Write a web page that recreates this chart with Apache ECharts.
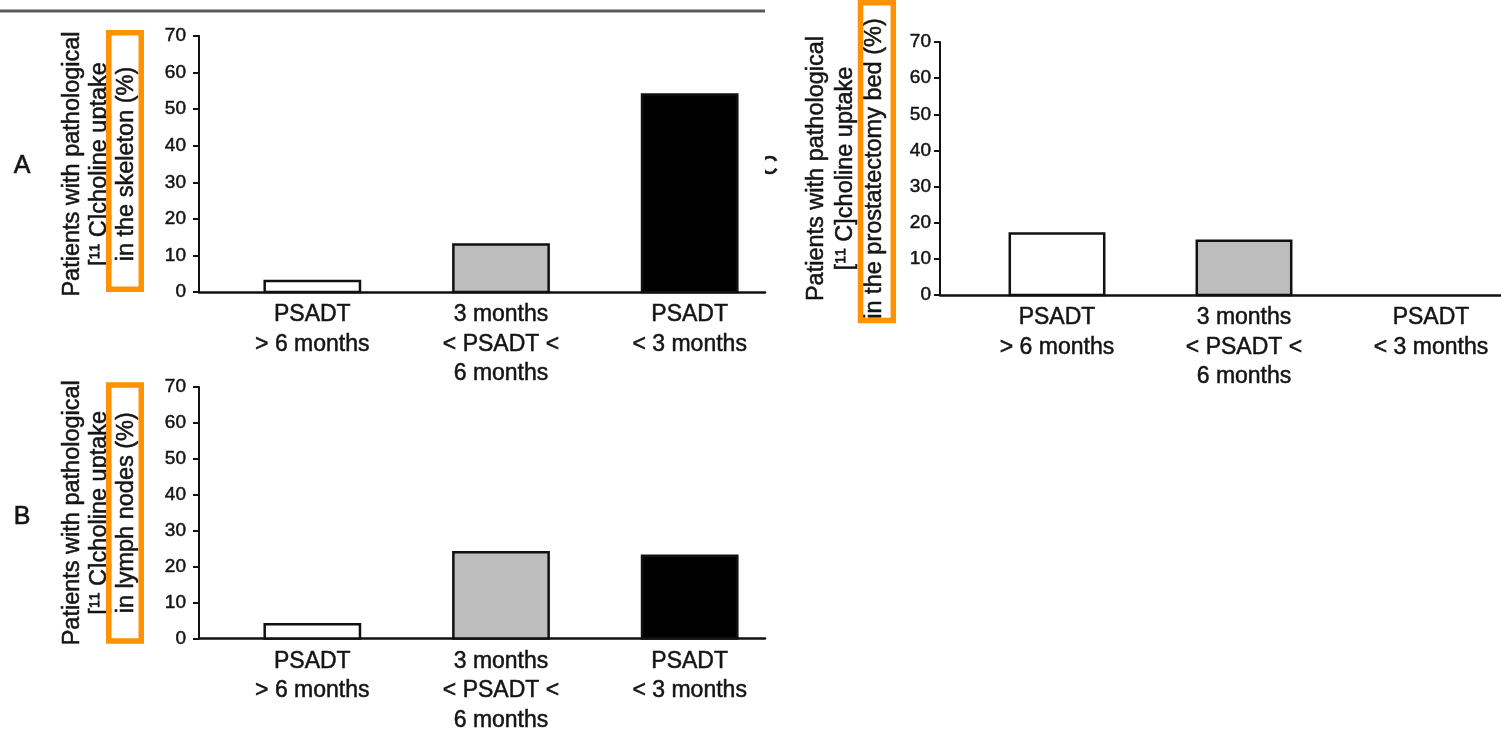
<!DOCTYPE html>
<html>
<head>
<meta charset="utf-8">
<script src="https://cdn.jsdelivr.net/npm/echarts@6/dist/echarts.min.js"></script>
<style>
html,body{margin:0;padding:0;background:#fff;}
#chart{width:1501px;height:735px;}
</style>
</head>
<body>
<div id="chart"></div>
<script>
// ---- data ----
const categories = ['PSADT\n> 6 months', '3 months\n< PSADT <\n6 months', 'PSADT\n< 3 months'];
const skeletonValues = [3, 13, 54];         // panel A
const lymphNodeValues = [4, 24, 23];        // panel B
const prostatectomyBedValues = [17, 15, 0]; // panel C
const yTicks = [0, 10, 20, 30, 40, 50, 60, 70];
const titleA = 'Patients with pathological\n[¹¹ C]choline uptake\nin the skeleton (%)';
const titleB = 'Patients with pathological\n[¹¹ C]choline uptake\nin lymph nodes (%)';
const titleC = 'Patients with pathological\n[¹¹ C]choline uptake\nin the prostatectomy bed (%)';
const panelLabels = ['A', 'B', 'C'];

// ---- styles ----
const FONT = 'Liberation Sans, Arial, sans-serif';
const INK = '#141414';
const barFills = ['#ffffff', '#bdbdbd', '#000000'];
const ORANGE = '#FF9200';
const HEAVY = { textBorderColor: INK, textBorderWidth: 0.5 };

function renderBars(shift) {
  return function (params, api) {
    const i = api.value(0), v = api.value(1);
    if (!(v > 0)) return null;
    const top = api.coord([i, v]);
    const base = api.coord([i, 0]);
    const w = api.size([1, 0])[0] * 0.505;
    return {
      type: 'rect',
      shape: { x: top[0] + shift - w / 2, y: top[1], width: w, height: base[1] - top[1] },
      style: { fill: barFills[i], stroke: '#111', lineWidth: 2.5 }
    };
  };
}

function xAxisFor(gridIndex, shift) {
  return {
    type: 'category', gridIndex: gridIndex, data: categories,
    axisLine: { lineStyle: { color: '#111', width: 2.5 } },
    axisTick: { show: false },
    axisLabel: Object.assign({
      interval: 0, fontFamily: FONT, fontSize: 23, lineHeight: 29.5, color: INK,
      margin: 8, padding: [0, 0, 0, shift * 2]
    }, HEAVY)
  };
}
function yAxisFor(gridIndex, title, gap, lh, margin) {
  return {
    type: 'value', gridIndex: gridIndex, min: yTicks[0], max: yTicks[yTicks.length - 1], interval: 10,
    splitLine: { show: false },
    axisLine: { show: true, lineStyle: { color: '#111', width: 2 } },
    axisTick: { show: true, length: 6, lineStyle: { color: '#111', width: 2 } },
    axisLabel: Object.assign({ fontFamily: FONT, fontSize: 19, color: INK, margin: margin }, HEAVY),
    name: title, nameLocation: 'middle', nameRotate: 90, nameGap: gap,
    nameTextStyle: Object.assign({ fontFamily: FONT, fontSize: 23.5, lineHeight: lh, color: INK, align: 'center' }, HEAVY)
  };
}

const SHIFT_AB = 19, SHIFT_C = 23.5;

const option = {
  backgroundColor: '#fff',
  animation: false,
  grid: [
    { left: 199, top: 36, width: 566, height: 256 },
    { left: 199, top: 387, width: 566, height: 256 },
    { left: 940, top: 42, width: 561, height: 253 }
  ],
  xAxis: [xAxisFor(0, SHIFT_AB), xAxisFor(1, SHIFT_AB), xAxisFor(2, SHIFT_C)],
  yAxis: [
    yAxisFor(0, titleA, 59, 27, 13),
    yAxisFor(1, titleB, 59, 27, 13),
    yAxisFor(2, titleC, 51, 29, 9)
  ],
  series: [
    { type: 'custom', xAxisIndex: 0, yAxisIndex: 0, renderItem: renderBars(SHIFT_AB),
      encode: { x: 0, y: 1 }, data: skeletonValues.map((v, i) => [i, v]) },
    { type: 'custom', xAxisIndex: 1, yAxisIndex: 1, renderItem: renderBars(SHIFT_AB),
      encode: { x: 0, y: 1 }, data: lymphNodeValues.map((v, i) => [i, v]) },
    { type: 'custom', xAxisIndex: 2, yAxisIndex: 2, renderItem: renderBars(SHIFT_C),
      encode: { x: 0, y: 1 }, data: prostatectomyBedValues.map((v, i) => [i, v]) }
  ],
  graphic: [
    { type: 'line', z: 10, shape: { x1: 0, y1: 11, x2: 765, y2: 11 }, style: { stroke: '#5a5a5a', lineWidth: 3 } },
    { type: 'text', z: 10, x: 22, y: 166, style: { text: panelLabels[0], font: '25px ' + FONT, fill: INK, stroke: INK, lineWidth: 0.6, textAlign: 'center', textVerticalAlign: 'middle' } },
    { type: 'text', z: 10, x: 22, y: 517, style: { text: panelLabels[1], font: '25px ' + FONT, fill: INK, stroke: INK, lineWidth: 0.6, textAlign: 'center', textVerticalAlign: 'middle' } },
    { type: 'text', z: 10, x: 769, y: 167, style: { text: panelLabels[2], font: '25px ' + FONT, fill: INK, stroke: INK, lineWidth: 0.6, textAlign: 'center', textVerticalAlign: 'middle' } },
    { type: 'rect', z: 11, shape: { x: 745, y: 148, width: 20, height: 40 }, style: { fill: '#fff' } },
    { type: 'rect', z: 12, shape: { x: 108.75, y: 32.75, width: 32.5, height: 256.5 }, style: { fill: 'none', stroke: ORANGE, lineWidth: 5.5 } },
    { type: 'rect', z: 12, shape: { x: 108.75, y: 385, width: 32.5, height: 256 }, style: { fill: 'none', stroke: ORANGE, lineWidth: 5.5 } },
    { type: 'rect', z: 12, shape: { x: 860.5, y: 2.75, width: 32.8, height: 317.8 }, style: { fill: 'none', stroke: ORANGE, lineWidth: 5.5 } }
  ]
};

const chart = echarts.init(document.getElementById('chart'), null, { renderer: 'canvas' });
chart.setOption(option);
</script>
</body>
</html>
